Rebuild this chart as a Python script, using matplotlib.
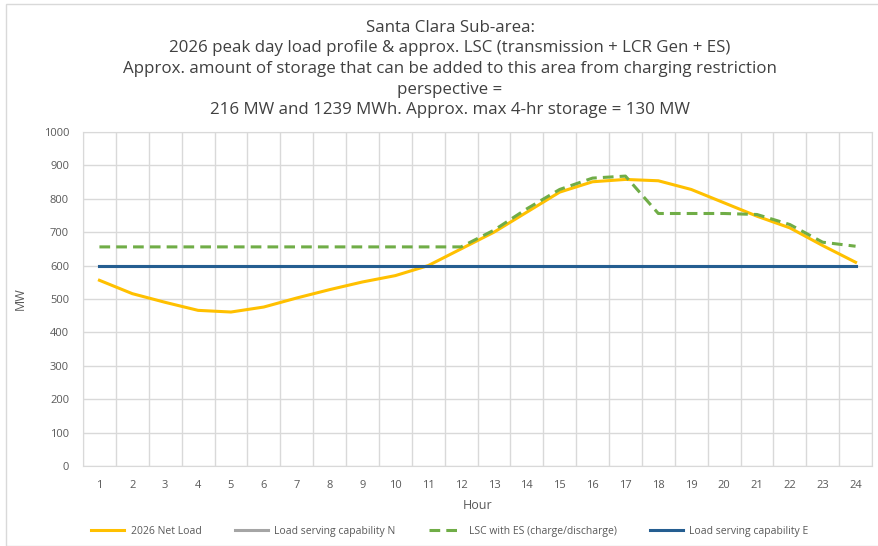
import matplotlib.pyplot as plt
from matplotlib.patches import Rectangle

plt.rcParams['font.family'] = ['Open Sans', 'DejaVu Sans']

hours = list(range(1, 25))
net_load = [556, 516, 490, 466, 461, 476, 503, 528, 551, 570, 600, 650,
            700, 760, 820, 851, 858, 854, 828, 788, 748, 713, 660, 610]
lsc_n = [600] * 24
lsc_es = [656, 656, 656, 656, 656, 656, 656, 656, 656, 656, 656, 656,
          706, 770, 828, 862, 868, 756, 756, 756, 753, 723, 670, 658]
lsc_e = [600] * 24

title = ('Santa Clara Sub-area:\n'
         '2026 peak day load profile & approx. LSC (transmission + LCR Gen + ES)\n'
         'Approx. amount of storage that can be added to this area from charging restriction\n'
         'perspective =\n'
         '216 MW and 1239 MWh. Approx. max 4-hr storage = 130 MW')

fig = plt.figure(figsize=(8.79, 5.46), dpi=100)
fig.patches.append(Rectangle((6 / 879, 0), 1.0, 1 - 4 / 546, transform=fig.transFigure,
                             fill=False, edgecolor='#d9d9d9', linewidth=1))

ax = fig.add_axes([83 / 879, 1 - 466 / 546, (872 - 83) / 879, (466 - 132) / 546])

ax.plot(hours, net_load, color='#ffc000', linewidth=2.2, label='2026 Net Load', zorder=3)
ax.plot(hours, lsc_n, color='#a5a5a5', linewidth=2.2, label='Load serving capability N', zorder=2)
ax.plot(hours, lsc_es, color='#70ad47', linewidth=2.2, linestyle=(0, (3.5, 2)),
        label='LSC with ES (charge/discharge)', zorder=4)
ax.plot(hours, lsc_e, color='#255e91', linewidth=2.2, label='Load serving capability E', zorder=3)

ax.set_xlim(0.5, 24.5)
ax.set_ylim(0, 1000)
ax.set_yticks(range(0, 1001, 100))
ax.set_xticks(hours)
ax.set_xticks([h + 0.5 for h in range(0, 25)], minor=True)
ax.grid(True, which='major', axis='y', color='#d9d9d9', linewidth=1)
ax.grid(True, which='minor', axis='x', color='#d9d9d9', linewidth=1)
ax.set_axisbelow(True)
for s in ax.spines.values():
    s.set_color('#d9d9d9')
ax.tick_params(which='both', length=0, labelsize=8, colors='#595959', pad=10)

ax.set_xlabel('Hour', fontsize=9, color='#595959', labelpad=6)
ax.set_ylabel('MW', fontsize=9, color='#595959', labelpad=12)

fig.text(0.512, 0.964, title, ha='center', va='top', fontsize=12.2, color='#404040',
         linespacing=1.39)

ax.legend(loc='upper center', bbox_to_anchor=(0.465, -0.152), ncol=4, frameon=False,
          fontsize=7.5, handlelength=3.2, handletextpad=0.6, columnspacing=3.2,
          labelcolor='#595959')

fig.savefig('out.png', dpi=100)
